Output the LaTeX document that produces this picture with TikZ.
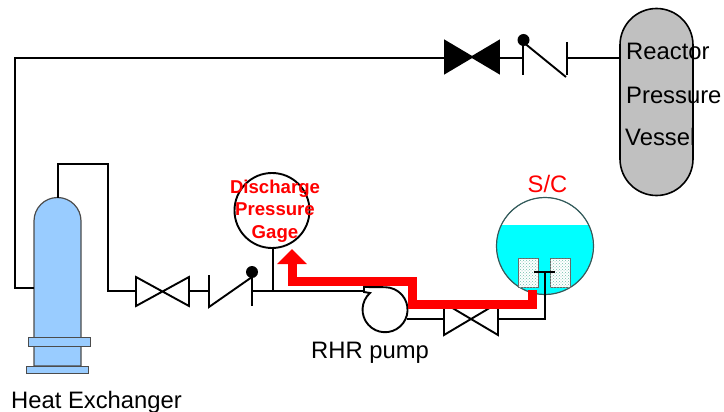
\documentclass[tikz,border=0pt]{standalone}
\usepackage{fontspec}
\setmainfont{Liberation Sans}
\usetikzlibrary{arrows.meta,patterns}

\definecolor{water}{RGB}{0,255,255}
\definecolor{hxblue}{RGB}{153,204,255}
\definecolor{vesselgray}{RGB}{192,192,192}
\definecolor{poolline}{RGB}{50,90,90}
\definecolor{dotgreen}{RGB}{110,190,170}
\definecolor{flowred}{RGB}{255,0,0}

\tikzset{
	pipe/.style={draw=black,line width=2.7pt},
	valveline/.style={draw=black,line width=1.9pt,line join=miter},
	flow/.style={draw=flowred,line width=9pt,line join=miter},
	label/.style={font=\fontsize{23.8}{26}\selectfont,inner sep=0pt},
	strainer/.style={draw=black!60,line width=0.8pt,fill=white,postaction={pattern=crosshatch dots,pattern color=dotgreen}},
}

\begin{document}
\begin{tikzpicture}[x=1pt,y=-1pt]
	\useasboundingbox (0,0) rectangle (724,412);

	% suction pool
	\draw [draw=poolline,fill=white] (545,246) circle [radius=48.5];
	\fill [water] (501.8,225) arc [start angle=154,end angle=386,radius=48,y radius=-48] -- cycle;
	\draw [draw=poolline,line width=1.2pt] (545,246) circle [radius=48.5];
	\draw [strainer] (518,258) rectangle (538,287);
	\draw [strainer] (550,258) rectangle (570,287);
	\node [label,text=flowred,anchor=base] (sc) at (547.5,192) {S/C};

	% reactor vessel
	\coordinate (rpv) at (620,58);
	\draw [draw=black,line width=1.6pt,fill=vesselgray] (620,45) arc [start angle=180,end angle=0,radius=36.5,y radius=-36.5]
		-- (693,159) arc [start angle=0,end angle=-180,radius=36.5,y radius=-36.5] -- cycle;
	\node [label,anchor=base west] (rpv1) at (626,60) {Reactor};
	\node [label,anchor=base west] (rpv2) at (626,103) {Pressure};
	\node [label,anchor=base west] (rpv3) at (625,146) {Vessel};

	% heat exchanger
	\draw [draw=black!70,line width=1.2pt,fill=hxblue]
		(34,366) -- (34,221) arc [start angle=180,end angle=0,radius=23.5,y radius=-23.5] -- (81,366) -- cycle;
	\draw [draw=black!70,fill=hxblue] (28,337) rectangle (90,346);
	\draw [draw=black!70,fill=hxblue] (26,366) rectangle (88,373);
	\node [label,anchor=base west] (hx) at (11,408) {Heat Exchanger};

	% return line
	\draw [pipe] (34,288) -- (15,288) -- (15,58) -- (445,58);
	\draw [pipe] (499,58) -- (523,58);
	\draw [pipe] (567,58) -- (rpv);

	% closed valve and check valve on top
	\draw [valveline,fill=black] (445,41) -- (499,73) -- (499,41) -- (445,73) -- cycle;
	\draw [valveline] (523,40) -- (523,75);
	\draw [valveline] (523,42) -- (566,77);
	\draw [valveline] (567,42) -- (567,75);
	\fill (523.5,40) circle [radius=6];

	% line from pump to heat exchanger
	\draw [pipe] (58,198) -- (58,164) -- (108,164) -- (108,291) -- (136,291);
	\draw [valveline] (136,277) -- (189,306) -- (189,277) -- (136,306) -- cycle;
	\draw [pipe] (189,291) -- (209,291);
	\draw [valveline] (209,275) -- (209,307) -- (252,277);
	\draw [valveline] (252,272) -- (252,306);
	\fill (252,272) circle [radius=6];
	\draw [pipe] (252,291) -- (364,291);

	% gage
	\draw [valveline] (273,291) -- (273,248);
	\draw [valveline,fill=white] (272,210.5) circle [radius=37.5];

	% pump
	\draw [valveline,fill=white] (370,293) arc [start angle=132,end angle=450,radius=22.5,y radius=-22.5]
		-- (364,287) -- (364,292) -- cycle;
	\draw [pipe] (407,319) -- (444,319);
	\draw [valveline] (444,303) -- (498,335) -- (498,303) -- (444,335) -- cycle;
	\draw [pipe] (498,319) -- (545,319) -- (545,272);
	\draw [pipe] (534,272) -- (555,272);
	\node [label,anchor=base west] (pump) at (311,358) {RHR pump};

	% red flow path
	\draw [flow,-{Triangle[width=29pt,length=15pt]}] (532,290) -- (532,304) -- (412,304) -- (412,281) -- (292,281) -- (292,249);

	% gage text
	\node [align=center,text=flowred,font=\fontsize{18.6}{22.5}\selectfont\bfseries,inner sep=0pt] (gage) at (275,211) {Discharge\\Pressure\\Gage};
\end{tikzpicture}
\end{document}
